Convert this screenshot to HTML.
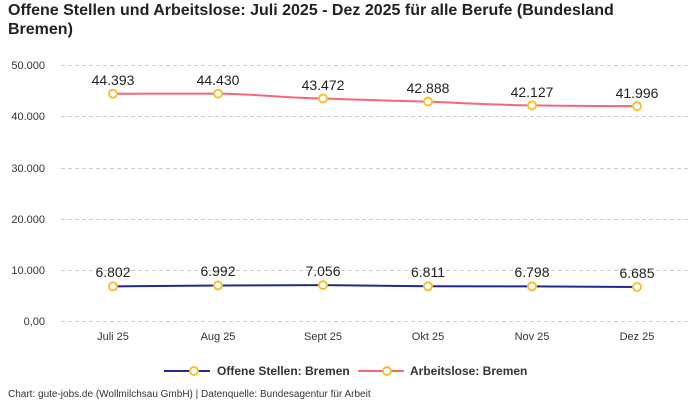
<!DOCTYPE html>
<html><head><meta charset="utf-8"><style>
body{margin:0;background:#fff;font-family:"Liberation Sans",sans-serif}
</style></head><body>
<svg width="700" height="400" xmlns="http://www.w3.org/2000/svg" font-family="Liberation Sans, sans-serif">
<text x="8" y="15" font-size="16" font-weight="bold" fill="#222">Offene Stellen und Arbeitslose: Juli 2025 - Dez 2025 für alle Berufe (Bundesland</text>
<text x="8" y="34" font-size="16" font-weight="bold" fill="#222">Bremen)</text>
<g stroke="#ccc" stroke-dasharray="4,3" stroke-width="1">
<line x1="61" x2="690" y1="65.5" y2="65.5"/><line x1="61" x2="690" y1="116.5" y2="116.5"/>
<line x1="61" x2="690" y1="168.5" y2="168.5"/><line x1="61" x2="690" y1="219.5" y2="219.5"/>
<line x1="61" x2="690" y1="270.5" y2="270.5"/><line x1="61" x2="690" y1="321.5" y2="321.5"/>
</g>
<g font-size="11" fill="#333" text-anchor="end">
<text x="45" y="69">50.000</text><text x="45" y="120">40.000</text><text x="45" y="172">30.000</text>
<text x="45" y="223">20.000</text><text x="45" y="274">10.000</text><text x="45" y="325">0,00</text>
</g>
<g font-size="11" fill="#333" text-anchor="middle">
<text x="113" y="340">Juli 25</text><text x="218" y="340">Aug 25</text><text x="323" y="340">Sept 25</text>
<text x="428" y="340">Okt 25</text><text x="532" y="340">Nov 25</text><text x="637" y="340">Dez 25</text>
</g>
<path d="M113,93.8 C150,93.8 180,93.5 218,93.6 C260,94 280,98 323,98.5 C370,100 390,100.8 428,101.5 C470,103.5 500,105 532,105.4 C570,106 600,106 637,106.1" fill="none" stroke="#f4667a" stroke-width="2"/>
<polyline points="113,286.4 218,285.5 323,285.1 428,286.3 532,286.4 637,287" fill="none" stroke="#1f2a8a" stroke-width="2"/>
<g fill="#fff" stroke="#f5c12e" stroke-width="2">
<circle cx="113" cy="93.8" r="4"/><circle cx="218" cy="93.6" r="4"/><circle cx="323" cy="98.5" r="4"/>
<circle cx="428" cy="101.5" r="4"/><circle cx="532" cy="105.4" r="4"/><circle cx="637" cy="106.1" r="4"/>
<circle cx="113" cy="286.4" r="4"/><circle cx="218" cy="285.5" r="4"/><circle cx="323" cy="285.1" r="4"/>
<circle cx="428" cy="286.3" r="4"/><circle cx="532" cy="286.4" r="4"/><circle cx="637" cy="287" r="4"/>
</g>
<g font-size="14" fill="#222" text-anchor="middle">
<text x="113" y="85">44.393</text><text x="218" y="85">44.430</text><text x="323" y="90">43.472</text>
<text x="428" y="93">42.888</text><text x="532" y="97">42.127</text><text x="637" y="98">41.996</text>
<text x="113" y="277">6.802</text><text x="218" y="276">6.992</text><text x="323" y="276">7.056</text>
<text x="428" y="277">6.811</text><text x="532" y="277">6.798</text><text x="637" y="278">6.685</text>
</g>
<line x1="164" x2="210" y1="371" y2="371" stroke="#1f2a8a" stroke-width="2"/>
<circle cx="194" cy="371" r="4" fill="#fff" stroke="#f5c12e" stroke-width="2"/>
<text x="217" y="375" font-size="12" font-weight="bold" fill="#333">Offene Stellen: Bremen</text>
<line x1="358" x2="404" y1="371" y2="371" stroke="#f4667a" stroke-width="2"/>
<circle cx="387" cy="371" r="4" fill="#fff" stroke="#f5c12e" stroke-width="2"/>
<text x="410" y="375" font-size="12" font-weight="bold" fill="#333">Arbeitslose: Bremen</text>
<text x="8" y="397" font-size="10" fill="#333">Chart: gute-jobs.de (Wollmilchsau GmbH) | Datenquelle: Bundesagentur für Arbeit</text>
</svg>
</body></html>
